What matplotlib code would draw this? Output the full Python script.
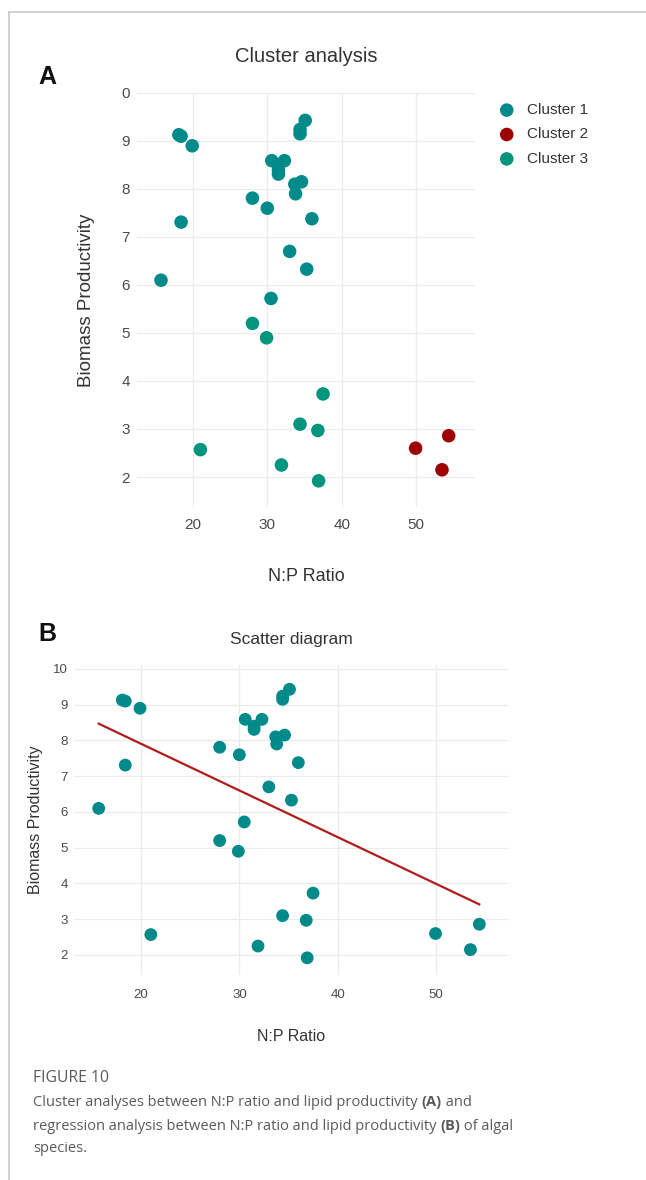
import numpy as np
import matplotlib
matplotlib.use("Agg")
import matplotlib.pyplot as plt
from matplotlib.lines import Line2D

plt.rcParams['font.family'] = ['Liberation Sans', 'DejaVu Sans']

# ---------------- data ----------------
c1_x = [18.1, 18.4, 19.9, 18.4, 28.0, 30.0, 30.6, 31.5, 31.5, 32.3, 33.7, 33.8,
        34.6, 34.4, 34.4, 35.1, 36.0, 33.0, 35.3, 15.7, 30.5]
c1_y = [9.13, 9.10, 8.90, 7.31, 7.81, 7.60, 8.59, 8.40, 8.31, 8.59, 8.10, 7.90,
        8.15, 9.24, 9.15, 9.43, 7.38, 6.70, 6.33, 6.10, 5.72]
c2_x = [49.95, 53.5, 54.4]
c2_y = [2.60, 2.15, 2.86]
c3_x = [28.0, 29.9, 37.5, 34.4, 36.8, 21.0, 31.9, 36.9]
c3_y = [5.20, 4.90, 3.73, 3.10, 2.97, 2.57, 2.25, 1.92]

cluster_names = ["Cluster 1", "Cluster 2", "Cluster 3"]
cluster_colors = ["#008A8A", "#9E0000", "#00957C"]

x_ticks = [20, 30, 40, 50]
y_ticks = [2, 3, 4, 5, 6, 7, 8, 9, 10]
yA_labels = ["2", "3", "4", "5", "6", "7", "8", "9", "0"]   # top label clipped in original
yB_labels = ["2", "3", "4", "5", "6", "7", "8", "9", "10"]

W, H = 646, 1180
fig = plt.figure(figsize=(W / 100, H / 100), dpi=100)

def fx(px):
    return px / W

def fy(py):
    return 1 - py / H

grid_c = "#ebebeb"
tick_c = "#4a4a4a"
text_c = "#333333"

# frame lines
fig.add_artist(Line2D([fx(9), 1.0], [fy(12), fy(12)], color="#c8c8c8", lw=1.2))
fig.add_artist(Line2D([fx(9), fx(9)], [fy(12), 0.0], color="#c8c8c8", lw=1.2))

def style_axes(ax, tick_size, pad):
    for s in ax.spines.values():
        s.set_visible(False)
    ax.grid(True, color=grid_c, lw=0.9)
    ax.set_axisbelow(True)
    ax.tick_params(length=0, labelsize=tick_size, colors=tick_c, pad=pad)

# ---------------- Panel A ----------------
axA = fig.add_axes([fx(137), fy(507), fx(475) - fx(137), fy(93) - fy(507)])
style_axes(axA, 11, 5)
axA.tick_params(axis='x', pad=8)
for xs, ys, name, col in [(c1_x, c1_y, cluster_names[0], cluster_colors[0]),
                          (c2_x, c2_y, cluster_names[1], cluster_colors[1]),
                          (c3_x, c3_y, cluster_names[2], cluster_colors[2])]:
    axA.scatter(xs, ys, s=95, color=col, label=name, edgecolors='none', zorder=3)
axA.set_xlim(12.47, 57.94)
axA.set_ylim(1.375, 10)
axA.set_xticks(x_ticks)
axA.set_yticks(y_ticks)
axA.set_yticklabels(yA_labels)
axA.set_xlabel("N:P Ratio", fontsize=13, color=text_c, labelpad=26)
axA.set_ylabel("Biomass Productivity", fontsize=13.5, color=text_c, labelpad=19)
axA.set_title("Cluster analysis", fontsize=14.5, color=text_c, pad=22)
leg = axA.legend(loc="upper left", bbox_to_anchor=(fx(493), fy(97)),
                 bbox_transform=fig.transFigure, frameon=False, fontsize=11,
                 handletextpad=0.8, labelspacing=0.68, markerscale=1.0,
                 handlelength=1.0, borderaxespad=0)
for t in leg.get_texts():
    t.set_color(text_c)
fig.text(fx(38), fy(77), "A", fontsize=18, fontweight="bold", va="center", ha="left",
         color="#111111")

# ---------------- Panel B ----------------
axB = fig.add_axes([fx(75), fy(975), fx(508) - fx(75), fy(665) - fy(975)])
style_axes(axB, 9.5, 5)
axB.tick_params(axis='x', pad=10)
all_x = np.array(c1_x + c2_x + c3_x)
all_y = np.array(c1_y + c2_y + c3_y)
axB.scatter(all_x, all_y, s=85, color=cluster_colors[0], edgecolors='none', zorder=3)
slope, intercept = np.polyfit(all_x, all_y, 1)
lx = np.array([all_x.min(), all_x.max()])
axB.plot(lx, intercept + slope * lx, color="#B01C1C", lw=1.6, zorder=2)
axB.set_xlim(13.29, 57.32)
axB.set_ylim(1.44, 10.11)
axB.set_xticks(x_ticks)
axB.set_yticks(y_ticks)
axB.set_yticklabels(yB_labels)
axB.set_xlabel("N:P Ratio", fontsize=11.5, color=text_c, labelpad=20)
axB.set_ylabel("Biomass Productivity", fontsize=11.5, color=text_c, labelpad=7)
axB.set_title("Scatter diagram", fontsize=12.5, color=text_c, pad=15)
fig.text(fx(38), fy(634), "B", fontsize=18, fontweight="bold", va="center", ha="left",
         color="#111111")

# ---------------- Caption ----------------
cap_c = "#5a5a5a"
cap_font = ['Open Sans', 'DejaVu Sans']
fig.text(fx(33), fy(1078), "FIGURE 10", fontsize=11.3, color=cap_c, family=cap_font,
         va="center", ha="left")

renderer = fig.canvas.get_renderer()

def rich_line(y_px, parts, size=10.5):
    x = fx(33)
    for txt, bold in parts:
        t = fig.text(x, fy(y_px), txt, fontsize=size, color=cap_c, family=cap_font,
                     fontweight="bold" if bold else "normal", va="center", ha="left")
        bb = t.get_window_extent(renderer=renderer)
        x += bb.width / W

rich_line(1102, [("Cluster analyses between N:P ratio and lipid productivity ", False),
                 ("(A)", True), (" and", False)])
rich_line(1126, [("regression analysis between N:P ratio and lipid productivity ", False),
                 ("(B)", True), (" of algal", False)])
rich_line(1149, [("species.", False)])

fig.savefig("out.png", dpi=100)
